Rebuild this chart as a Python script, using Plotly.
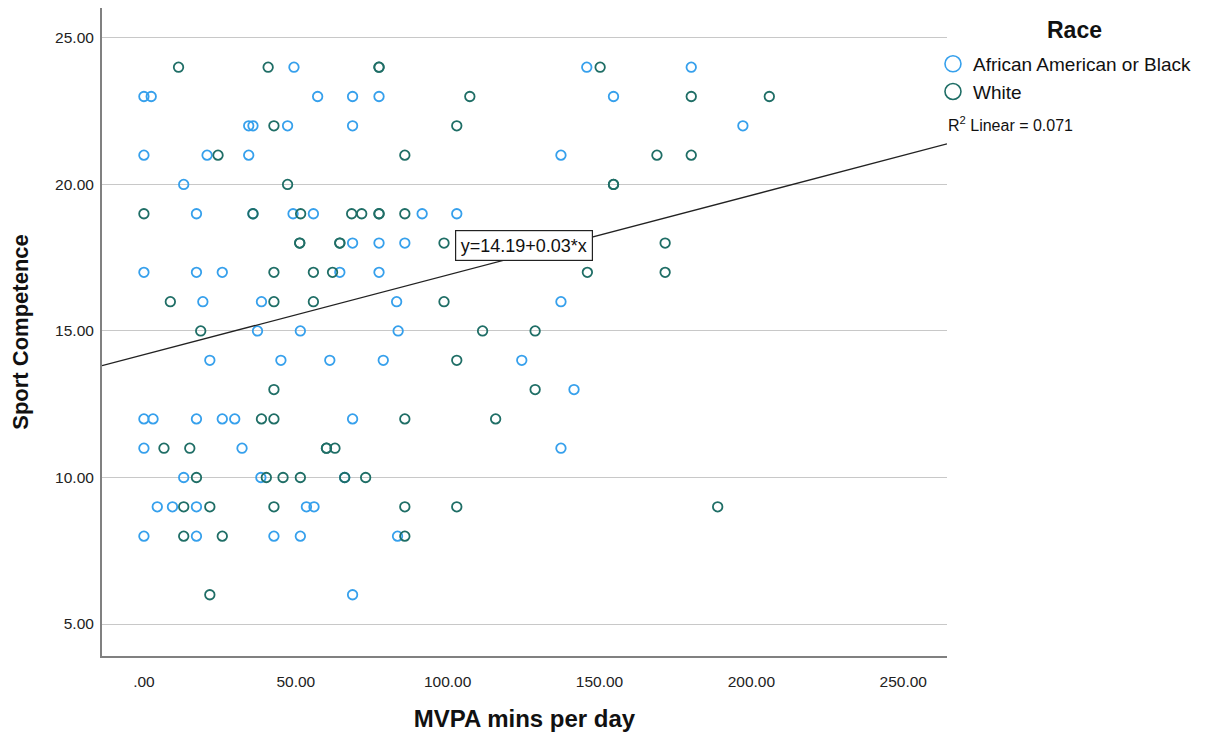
import plotly.graph_objects as go

# ---------------- data ----------------
race_names = ["African American or Black", "White"]

aa_x = [49.4, 145.8, 180.2,
        0, 2.4, 57.2, 68.7, 77.4, 154.6,
        34.5, 35.9, 47.3, 68.7, 197.2,
        0, 20.8, 34.5, 137.3,
        13.1,
        17.3, 35.9, 49.1, 55.8, 91.6, 103.0,
        68.7, 77.4, 85.9,
        0, 17.3, 25.8, 64.5, 77.4,
        19.4, 38.7, 83.2, 137.3,
        37.4, 51.5, 83.7,
        21.7, 45.1, 61.2, 78.8, 124.4,
        141.6,
        0, 3.0, 17.3, 25.8, 29.9, 68.7,
        0, 32.3, 137.3,
        13.1, 38.5, 66.1,
        4.4, 9.4, 17.3, 53.5, 56.0,
        0, 17.3, 42.8, 51.5, 83.5,
        68.7]
aa_y = [24, 24, 24,
        23, 23, 23, 23, 23, 23,
        22, 22, 22, 22, 22,
        21, 21, 21, 21,
        20,
        19, 19, 19, 19, 19, 19,
        18, 18, 18,
        17, 17, 17, 17, 17,
        16, 16, 16, 16,
        15, 15, 15,
        14, 14, 14, 14, 14,
        13,
        12, 12, 12, 12, 12, 12,
        11, 11, 11,
        10, 10, 10,
        9, 9, 9, 9, 9,
        8, 8, 8, 8, 8,
        6]

wh_x = [11.4, 40.9, 77.4, 77.4, 150.2,
        107.3, 180.2, 205.9,
        42.8, 103.0,
        24.4, 85.9, 168.9, 180.2,
        47.3, 154.6, 154.6,
        0, 35.9, 51.6, 68.4, 71.7, 77.4, 77.4, 85.9,
        51.3, 51.3, 64.5, 64.5, 98.8, 171.6,
        42.8, 55.8, 62.1, 146.0, 171.6,
        8.7, 42.8, 55.8, 98.8,
        18.7, 111.5, 128.8,
        103.0,
        42.8, 128.8,
        38.7, 42.8, 85.9, 115.8,
        6.6, 15.1, 60.1, 60.1, 62.9,
        17.3, 40.3, 45.8, 51.5, 66.1, 73.0,
        13.1, 21.7, 42.8, 85.9, 103.0, 188.9,
        13.1, 25.8, 85.9,
        21.7]
wh_y = [24, 24, 24, 24, 24,
        23, 23, 23,
        22, 22,
        21, 21, 21, 21,
        20, 20, 20,
        19, 19, 19, 19, 19, 19, 19, 19,
        18, 18, 18, 18, 18, 18,
        17, 17, 17, 17, 17,
        16, 16, 16, 16,
        15, 15, 15,
        14,
        13, 13,
        12, 12, 12, 12,
        11, 11, 11, 11, 11,
        10, 10, 10, 10, 10, 10,
        9, 9, 9, 9, 9, 9,
        8, 8, 8,
        6]

# fit line, as printed by the chart (slope shown rounded to 0.03)
fit_intercept = 14.19
fit_slope = 0.0272
fit_label = "y=14.19+0.03*x"
r2_label = "R<sup>2</sup> Linear = 0.071"

x_tickvals = [0, 50, 100, 150, 200, 250]
x_ticktext = [".00", "50.00", "100.00", "150.00", "200.00", "250.00"]
y_tickvals = [5, 10, 15, 20, 25]
y_ticktext = ["5.00", "10.00", "15.00", "20.00", "25.00"]

x_range = [-13.8, 264.4]
y_range = [3.91, 26.02]

# ---------------- figure ----------------
FONT = "Liberation Sans, Arial, sans-serif"
BLUE = "#36a0ec"
TEAL = "#1f6e66"

fig = go.Figure()

for xs, ys, col, name in [(aa_x, aa_y, BLUE, race_names[0]), (wh_x, wh_y, TEAL, race_names[1])]:
    fig.add_trace(go.Scatter(
        x=xs, y=ys, mode="markers", name=name, showlegend=False,
        marker=dict(symbol="circle-open", size=9.5, color=col, line=dict(width=1.8, color=col)),
        hoverinfo="x+y",
    ))

# legend-only proxies with larger symbols
for col, name in [(BLUE, race_names[0]), (TEAL, race_names[1])]:
    fig.add_trace(go.Scatter(
        x=[None], y=[None], mode="markers", name=name, showlegend=True,
        marker=dict(symbol="circle-open", size=16, color=col, line=dict(width=1.6, color=col)),
    ))

# regression line across the full x range
fig.add_trace(go.Scatter(
    x=x_range,
    y=[fit_intercept + fit_slope * v for v in x_range],
    mode="lines", line=dict(color="#222222", width=1.3),
    showlegend=False, hoverinfo="skip",
))

label_x = 125.1
fig.add_annotation(
    x=label_x, y=fit_intercept + fit_slope * label_x + 0.33,
    xref="x", yref="y", text=fit_label, showarrow=False,
    font=dict(family=FONT, size=18, color="#111111"),
    bgcolor="white", bordercolor="#222222", borderwidth=1.2, borderpad=4.5,
)

fig.add_annotation(
    x=1.1505, y=0.966, xref="paper", yref="paper", text="<b>Race</b>",
    showarrow=False, xanchor="center", yanchor="middle",
    font=dict(family=FONT, size=23, color="#111111"),
)
fig.add_annotation(
    x=0.9992, y=0.8215, xref="paper", yref="paper", text=r2_label,
    showarrow=False, xanchor="left", yanchor="middle",
    font=dict(family=FONT, size=16, color="#111111"),
)

fig.update_layout(
    width=1209, height=736,
    margin=dict(l=102, r=262, t=8, b=78, pad=0),
    paper_bgcolor="white", plot_bgcolor="white",
    font=dict(family=FONT, color="#222222"),
    legend=dict(
        x=0.9834, y=0.943, xanchor="left", yanchor="top",
        bgcolor="rgba(0,0,0,0)", font=dict(family=FONT, size=19, color="#111111"),
        itemsizing="trace", tracegroupgap=0,
    ),
    xaxis=dict(
        range=x_range, tickvals=x_tickvals, ticktext=x_ticktext,
        showgrid=False, zeroline=False, showline=True, linecolor="#808080", linewidth=2,
        ticks="", ticklabelstandoff=10, tickfont=dict(family=FONT, size=15.5, color="#222222"),
        title=dict(text="<b>MVPA mins per day</b>", font=dict(family=FONT, size=24, color="#111111"), standoff=22),
    ),
    yaxis=dict(
        range=y_range, tickvals=y_tickvals, ticktext=y_ticktext,
        showgrid=True, gridcolor="#c8c8c8", gridwidth=1.2, zeroline=False,
        showline=True, linecolor="#808080", linewidth=2,
        ticks="", ticklabelstandoff=3, tickfont=dict(family=FONT, size=15.5, color="#222222"),
        title=dict(text="<b>Sport Competence</b>", font=dict(family=FONT, size=22, color="#111111"), standoff=20),
    ),
)

fig.write_html("out.html")
